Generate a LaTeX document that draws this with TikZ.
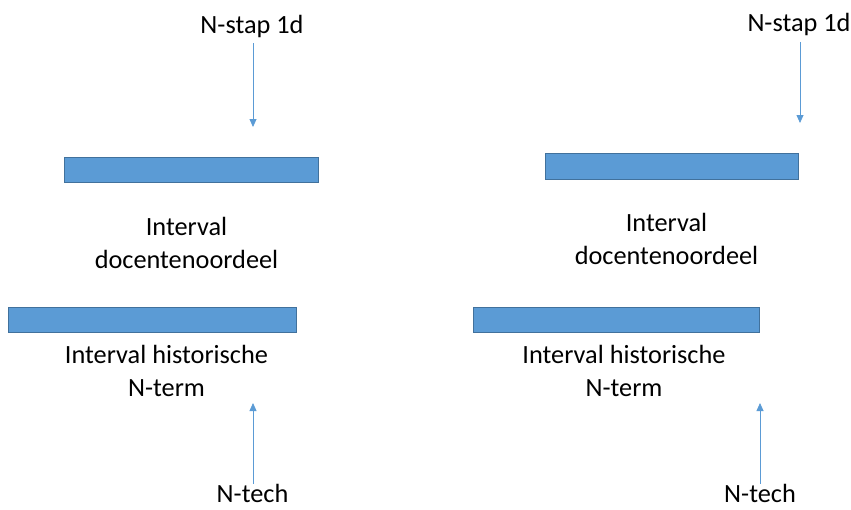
\documentclass[tikz,border=0pt]{standalone}
\usepackage{fontspec}
\setmainfont{Carlito}
\usetikzlibrary{arrows.meta}
\definecolor{barblue}{HTML}{5B9BD5}
\definecolor{bardark}{HTML}{41719C}
\tikzset{
  bar/.style={fill=barblue, draw=bardark, line width=1pt},
  lbl/.style={align=center, inner sep=0pt, font=\fontsize{26.3}{32.5}\selectfont},
  pointer/.style={draw=barblue, line width=0.8pt, -{Triangle[width=7pt,length=8pt]}}
}

\begin{document}
\begin{tikzpicture}[x=1pt,y=-1pt]
\useasboundingbox (0,0) rectangle (851,509);
%LEFT
  \node (stapL) at (252,33) [lbl, anchor=base] {N-stap 1d};
  \coordinate (stapLtip) at (253,127);
  \draw[pointer, shorten <=6pt] (stapLtip |- stapL.south) -- (stapLtip);
  \draw[bar] (64,157) rectangle (318,182);
  \node (docL) at (186.5,243) [lbl] {Interval\\docentenoordeel};
  \draw[bar] (8,307) rectangle (296,332);
  \node (histL) at (166.5,371) [lbl] {Interval historische\\N-term};
  \node (techL) at (252.5,502) [lbl, anchor=base] {N-tech};
  \coordinate (techLtip) at (253,403);
  \draw[pointer] (techLtip |- techL.north) -- (techLtip);

%RIGHT
  \node (stapR) at (799,31.5) [lbl, anchor=base] {N-stap 1d};
  \coordinate (stapRtip) at (800,123);
  \draw[pointer, shorten <=6pt] (stapRtip |- stapR.south) -- (stapRtip);
  \draw[bar] (545,153) rectangle (798,179);
  \node (docR) at (666.5,239) [lbl] {Interval\\docentenoordeel};
  \draw[bar] (473,307) rectangle (759,332);
  \node (histR) at (624,371) [lbl] {Interval historische\\N-term};
  \node (techR) at (760,502) [lbl, anchor=base] {N-tech};
  \coordinate (techRtip) at (760,403);
  \draw[pointer] (techRtip |- techR.north) -- (techRtip);
\end{tikzpicture}
\end{document}
